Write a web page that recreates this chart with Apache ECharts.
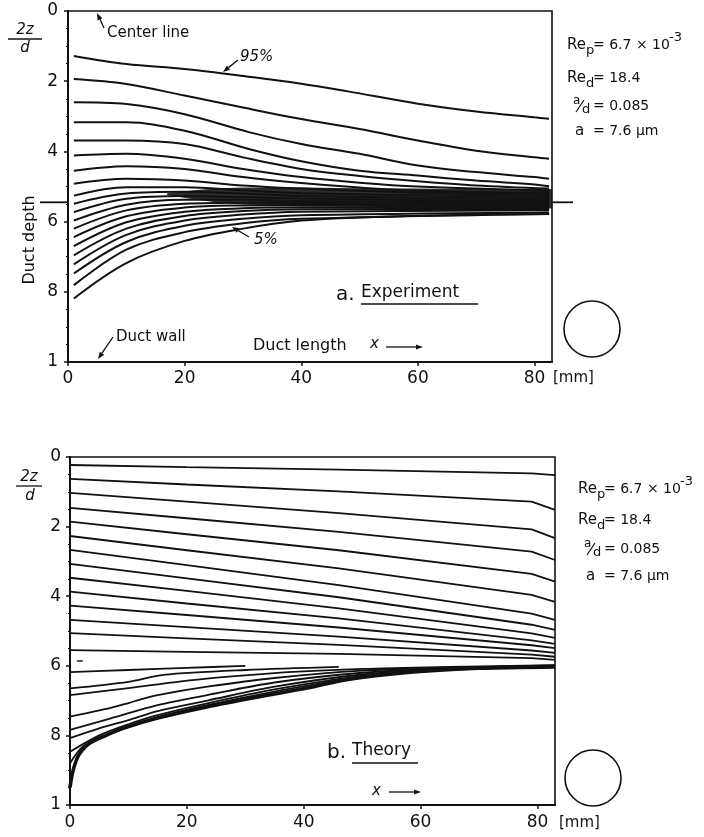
<!DOCTYPE html>
<html>
<head>
<meta charset="utf-8">
<script src="https://cdn.jsdelivr.net/npm/echarts@6/dist/echarts.min.js"></script>
<style>
  html, body { margin: 0; padding: 0; background: #fff; }
  #chart { width: 704px; height: 837px; }
</style>
</head>
<body>
<div id="chart"></div>
<script>
// ---------------- data ----------------
// Depth axis is 2z/d (0 = centre line, 1 = duct wall); labels drop the decimal point.
const depthTicks = ['0', '2', '4', '6', '8', '1'];
const lengthTicks = [0, 20, 40, 60, 80];

// a. Experiment: particle-fraction streamlines (95% ... 5%), each as [x in mm], [2z/d]
const expLevels = ['95%', '90%', '85%', '80%', '75%', '70%', '65%', '60%', '55%', '50%',
                   '45%', '40%', '35%', '30%', '25%', '20%', '15%', '10%', '7.5%', '5%'];
const expLines = [
  [[1, 10, 20, 31, 40, 48, 60, 70, 80, 82.5], [0.128, 0.151, 0.165, 0.187, 0.207, 0.229, 0.264, 0.286, 0.303, 0.307]],
  [[1, 10, 20, 30, 40, 50, 60, 70, 80, 82.5], [0.194, 0.208, 0.241, 0.275, 0.308, 0.336, 0.369, 0.398, 0.417, 0.421]],
  [[1, 10, 20, 31, 40, 50, 60, 70, 80, 82.5], [0.260, 0.265, 0.294, 0.345, 0.379, 0.407, 0.440, 0.459, 0.473, 0.478]],
  [[1, 10, 20, 31, 40, 50, 60, 70, 80, 82.5], [0.317, 0.317, 0.341, 0.393, 0.428, 0.455, 0.469, 0.483, 0.494, 0.499]],
  [[1, 10, 20, 30, 40, 50, 60, 70, 82.5], [0.369, 0.369, 0.379, 0.417, 0.450, 0.470, 0.485, 0.497, 0.506]],
  [[1, 10, 20, 30, 40, 50, 60, 82.5], [0.412, 0.407, 0.421, 0.450, 0.473, 0.489, 0.500, 0.512]],
  [[1, 10, 20, 30, 40, 50, 60, 82.5], [0.455, 0.442, 0.450, 0.473, 0.490, 0.503, 0.512, 0.518]],
  [[1, 10, 20, 30, 40, 60, 82.5], [0.492, 0.478, 0.483, 0.497, 0.506, 0.518, 0.524]],
  [[1, 10, 20, 30, 40, 82.5], [0.526, 0.502, 0.502, 0.511, 0.519, 0.530]],
  [[1, 10, 20, 30, 40, 82.5], [0.549, 0.520, 0.515, 0.520, 0.527, 0.536]],
  [[1, 10, 20, 30, 40, 82.5], [0.573, 0.535, 0.527, 0.530, 0.534, 0.542]],
  [[1, 10, 20, 30, 40, 82.5], [0.597, 0.552, 0.538, 0.538, 0.541, 0.547]],
  [[1, 10, 20, 30, 40, 82.5], [0.620, 0.568, 0.549, 0.546, 0.547, 0.552]],
  [[1, 10, 20, 30, 40, 82.5], [0.644, 0.585, 0.560, 0.554, 0.553, 0.556]],
  [[1, 10, 20, 30, 40, 82.5], [0.670, 0.602, 0.572, 0.562, 0.559, 0.560]],
  [[1, 10, 20, 30, 40, 82.5], [0.696, 0.620, 0.584, 0.570, 0.565, 0.564]],
  [[1, 10, 20, 30, 40, 82.5], [0.722, 0.638, 0.597, 0.580, 0.572, 0.568]],
  [[1, 10, 20, 30, 40, 82.5], [0.748, 0.658, 0.612, 0.592, 0.582, 0.574]],
  [[1, 10, 20, 30, 40, 82.5], [0.781, 0.680, 0.630, 0.605, 0.592, 0.578]],
  [[1, 10, 20, 30, 40, 50, 60, 82.5], [0.819, 0.718, 0.655, 0.620, 0.597, 0.588, 0.583, 0.578]]
];
// dense particle band where the streamlines pile up
const bandX      = [17, 22, 26, 30, 40, 50, 60, 70, 83];
const bandTop    = [0.519, 0.510, 0.505, 0.503, 0.503, 0.505, 0.506, 0.507, 0.507];
const bandBottom = [0.524, 0.538, 0.546, 0.551, 0.556, 0.558, 0.560, 0.562, 0.563];
const expMarkDepth = 0.545;

// b. Theory: upper family of streamlines, all sampled at the same x
const theoryUpperX = [0, 20, 46, 79, 83];
const theoryUpper = [
  [0.023, 0.029, 0.036, 0.047, 0.052],
  [0.063, 0.079, 0.099, 0.128, 0.152],
  [0.103, 0.128, 0.161, 0.208, 0.233],
  [0.146, 0.176, 0.215, 0.272, 0.296],
  [0.186, 0.222, 0.268, 0.336, 0.358],
  [0.227, 0.268, 0.320, 0.396, 0.416],
  [0.267, 0.311, 0.368, 0.450, 0.468],
  [0.307, 0.349, 0.403, 0.482, 0.497],
  [0.347, 0.385, 0.435, 0.507, 0.520],
  [0.387, 0.421, 0.464, 0.527, 0.537],
  [0.427, 0.454, 0.490, 0.541, 0.549],
  [0.468, 0.489, 0.516, 0.556, 0.563],
  [0.506, 0.521, 0.540, 0.568, 0.574],
  [0.555, 0.560, 0.566, 0.578, 0.583]
];
// b. Theory: lower family rising towards the deposition front
const theoryLower = [
  [[0, 10, 20, 30], [0.618, 0.612, 0.606, 0.600]],
  [[0, 10, 16, 30, 46], [0.665, 0.646, 0.626, 0.612, 0.603]],
  [[0, 10, 21, 35, 50, 65, 83], [0.684, 0.664, 0.641, 0.621, 0.609, 0.603, 0.598]],
  [[0, 7, 10, 12, 15, 23.5, 35, 50, 65, 83], [0.746, 0.721, 0.707, 0.697, 0.684, 0.660, 0.635, 0.614, 0.605, 0.599]],
  [[0, 7, 15, 23.5, 35, 50, 65, 83], [0.784, 0.751, 0.713, 0.684, 0.648, 0.620, 0.607, 0.600]],
  [[0, 5, 10, 15, 23.5, 35, 50, 65, 83], [0.808, 0.780, 0.756, 0.730, 0.700, 0.660, 0.625, 0.609, 0.601]],
  [[0, 5, 10, 15, 23.5, 35, 50, 65, 83], [0.847, 0.800, 0.768, 0.742, 0.708, 0.668, 0.629, 0.611, 0.602]],
  [[0, 2, 5, 10, 15, 23.5, 35, 50, 65, 83], [0.880, 0.835, 0.808, 0.776, 0.748, 0.713, 0.674, 0.632, 0.612, 0.602]]
];
const theoryFrontX = [0, 0.4, 1, 1.7, 3.4, 6.3, 9.2, 15, 23.4, 32, 40.6, 47.3, 58.7, 70, 83];
const theoryFront  = [0.95, 0.91, 0.875, 0.851, 0.822, 0.799, 0.779, 0.750, 0.718, 0.690, 0.664, 0.640, 0.618, 0.607, 0.603];
const theoryMark = [1.5, 0.586];

// ---------------- styling helpers ----------------
const INK = '#111';
const FONT = 'DejaVu Sans';

function pairs(xs, ys) { return xs.map((x, i) => [x, ys[i]]); }

function lineSeries(data, gi, width, smooth) {
  return {
    type: 'line', xAxisIndex: gi, yAxisIndex: gi, data: data,
    symbol: 'none', smooth: smooth, silent: true, animation: false,
    lineStyle: { color: INK, width: width }, z: 3
  };
}

function depthAxis(gi, margin) {
  return {
    type: 'value', gridIndex: gi, inverse: true, min: 0, max: 1, interval: 0.2,
    axisLine: { show: true, lineStyle: { color: INK, width: 2 } },
    axisTick: { show: true, length: 4, lineStyle: { color: INK, width: 1.5 } },
    minorTick: { show: true, splitNumber: 4, length: 2, lineStyle: { color: INK, width: 1 } },
    splitLine: { show: false },
    axisLabel: {
      margin: margin, color: INK, fontFamily: FONT, fontSize: 17,
      formatter: v => depthTicks[Math.round(v * 5)]
    }
  };
}

function lengthAxis(gi, margin) {
  return {
    type: 'value', gridIndex: gi, min: 0, max: 83, interval: 20,
    axisLine: { show: true, onZero: false, lineStyle: { color: INK, width: 2 } },
    axisTick: { show: true, length: 4, lineStyle: { color: INK, width: 1.5 } },
    splitLine: { show: false },
    axisLabel: {
      margin: margin, color: INK, fontFamily: FONT, fontSize: 17, showMaxLabel: false,
      formatter: v => (lengthTicks.indexOf(v) >= 0 ? String(v) : '')
    }
  };
}

// ---------------- series ----------------
const series = [];

// dark band of accumulated particles (panel a)
series.push({
  type: 'custom', xAxisIndex: 0, yAxisIndex: 0, silent: true, animation: false, z: 2,
  data: bandX.map((x, i) => [x, bandTop[i], bandBottom[i]]),
  encode: { x: 0, y: [1, 2] },
  renderItem: function (params, api) {
    if (params.dataIndex !== 0) return null;
    const top = bandX.map((x, i) => api.coord([x, bandTop[i]]));
    const bottom = bandX.map((x, i) => api.coord([x, bandBottom[i]])).reverse();
    return {
      type: 'polygon',
      shape: { points: top.concat(bottom) },
      style: { fill: '#1a1a1a', opacity: 0.92 }
    };
  }
});

expLines.forEach((ln, k) => {
  const s = lineSeries(pairs(ln[0], ln[1]), 0, 2, 0.35);
  s.name = expLevels[k];
  series.push(s);
});

theoryUpper.forEach(ys => {
  series.push(lineSeries(pairs(theoryUpperX, ys), 1, 1.8, false));
});
theoryLower.forEach(ln => {
  series.push(lineSeries(pairs(ln[0], ln[1]), 1, 1.8, 0.3));
});
series.push(lineSeries(pairs(theoryFrontX, theoryFront), 1, 3.6, 0.3));

// ---------------- annotations ----------------
function txt(x, y, s, size, opt) {
  opt = opt || {};
  return {
    type: 'text', x: x, y: y, rotation: opt.rotation || 0, silent: true, z: 10,
    style: {
      text: s, fill: INK, fontFamily: FONT, fontSize: size,
      fontStyle: opt.italic ? 'italic' : 'normal',
      align: opt.align || 'left', verticalAlign: 'middle'
    }
  };
}
function seg(x1, y1, x2, y2, w) {
  return { type: 'line', silent: true, z: 10,
           shape: { x1: x1, y1: y1, x2: x2, y2: y2 },
           style: { stroke: INK, lineWidth: w || 1.4 } };
}
function arrow(x1, y1, x2, y2) {
  const dx = x2 - x1, dy = y2 - y1, L = Math.hypot(dx, dy);
  const ux = dx / L, uy = dy / L, hl = 7, hw = 2.6;
  const bx = x2 - ux * hl, by = y2 - uy * hl;
  return [
    seg(x1, y1, bx, by, 1.3),
    { type: 'polygon', silent: true, z: 10,
      shape: { points: [[x2, y2], [bx - uy * hw, by + ux * hw], [bx + uy * hw, by - ux * hw]] },
      style: { fill: INK } }
  ];
}
function circle(cx, cy, r) {
  return { type: 'circle', silent: true, z: 10, shape: { cx: cx, cy: cy, r: r },
           style: { fill: 'none', stroke: INK, lineWidth: 1.6 } };
}
function paramsBlock(x0, ys) {
  const eq = x0 + 26;
  return [
    txt(x0, ys[0], 'Re', 15), txt(x0 + 19, ys[0] + 6, 'p', 13), txt(eq, ys[0], '= 6.7 × 10', 14),
    txt(eq + 76, ys[0] - 7, '-3', 13),
    txt(x0, ys[1], 'Re', 15), txt(x0 + 19, ys[1] + 6, 'd', 13), txt(eq, ys[1], '= 18.4', 14),
    txt(x0 + 6, ys[2] - 5, 'a', 12), seg(x0 + 9, ys[2] + 6, x0 + 17, ys[2] - 6, 1.2),
    txt(x0 + 15, ys[2] + 4, 'd', 13), txt(eq, ys[2], '= 0.085', 14),
    txt(x0 + 8, ys[3], 'a', 15), txt(eq, ys[3], '= 7.6 μm', 14)
  ];
}

const notes = [].concat(
  // panel a
  txt(25, 30, '2z', 15, { italic: true, align: 'center' }), seg(8, 39, 42, 39, 1.3),
  txt(25, 48, 'd', 15, { italic: true, align: 'center' }),
  txt(30, 240, 'Duct depth', 16, { rotation: Math.PI / 2, align: 'center' }),
  txt(107, 33, 'Center line', 15), arrow(104, 28, 97, 13),
  txt(240, 57, '95%', 15, { italic: true }), arrow(238, 60, 223, 72),
  txt(254, 240, '5%', 15, { italic: true }), arrow(249, 237, 232, 227),
  txt(116, 337, 'Duct wall', 15), arrow(113, 337, 98, 359),
  txt(253, 346, 'Duct length', 16), txt(370, 344, 'x', 15, { italic: true }), arrow(386, 347, 423, 347),
  txt(336, 295, 'a.', 20), txt(361, 293, 'Experiment', 17), seg(361, 304, 478, 304, 1.3),
  txt(553, 378, '[mm]', 15),
  paramsBlock(567, [45, 78, 106, 131]),
  circle(592, 329, 28),
  // panel b
  txt(29, 477, '2z', 15, { italic: true, align: 'center' }), seg(16, 486, 42, 486, 1.3),
  txt(30, 496, 'd', 15, { italic: true, align: 'center' }),
  txt(327, 753, 'b.', 20), txt(352, 751, 'Theory', 17), seg(352, 763, 418, 763, 1.3),
  txt(372, 791, 'x', 15, { italic: true }), arrow(389, 792, 421, 792),
  txt(559, 823, '[mm]', 15),
  paramsBlock(578, [489, 520, 549, 576]),
  circle(593, 778, 28)
);

// ---------------- chart ----------------
const chart = echarts.init(document.getElementById('chart'), null, { renderer: 'canvas' });
chart.setOption({
  backgroundColor: '#fff',
  animation: false,
  grid: [
    { left: 68, top: 11, width: 484, height: 351, show: true, borderColor: INK, borderWidth: 1.6, backgroundColor: 'transparent' },
    { left: 70, top: 457, width: 485, height: 348, show: true, borderColor: INK, borderWidth: 1.6, backgroundColor: 'transparent' }
  ],
  xAxis: [lengthAxis(0, 8), lengthAxis(1, 9)],
  yAxis: [depthAxis(0, 10), depthAxis(1, 9)],
  series: series
});

// reference marks that reach outside the frame, placed through the axes
const pa0 = chart.convertToPixel({ gridIndex: 0 }, [0, expMarkDepth]);
const pa1 = chart.convertToPixel({ gridIndex: 0 }, [83, expMarkDepth]);
const pb = chart.convertToPixel({ gridIndex: 1 }, theoryMark);
chart.setOption({
  graphic: notes.concat([
    seg(pa0[0] - 28, pa0[1], pa0[0], pa0[1], 1.8),
    seg(pa1[0], pa1[1], pa1[0] + 21, pa1[1], 1.8),
    seg(pb[0] - 2, pb[1], pb[0] + 4, pb[1], 1.4)
  ])
});
</script>
</body>
</html>
